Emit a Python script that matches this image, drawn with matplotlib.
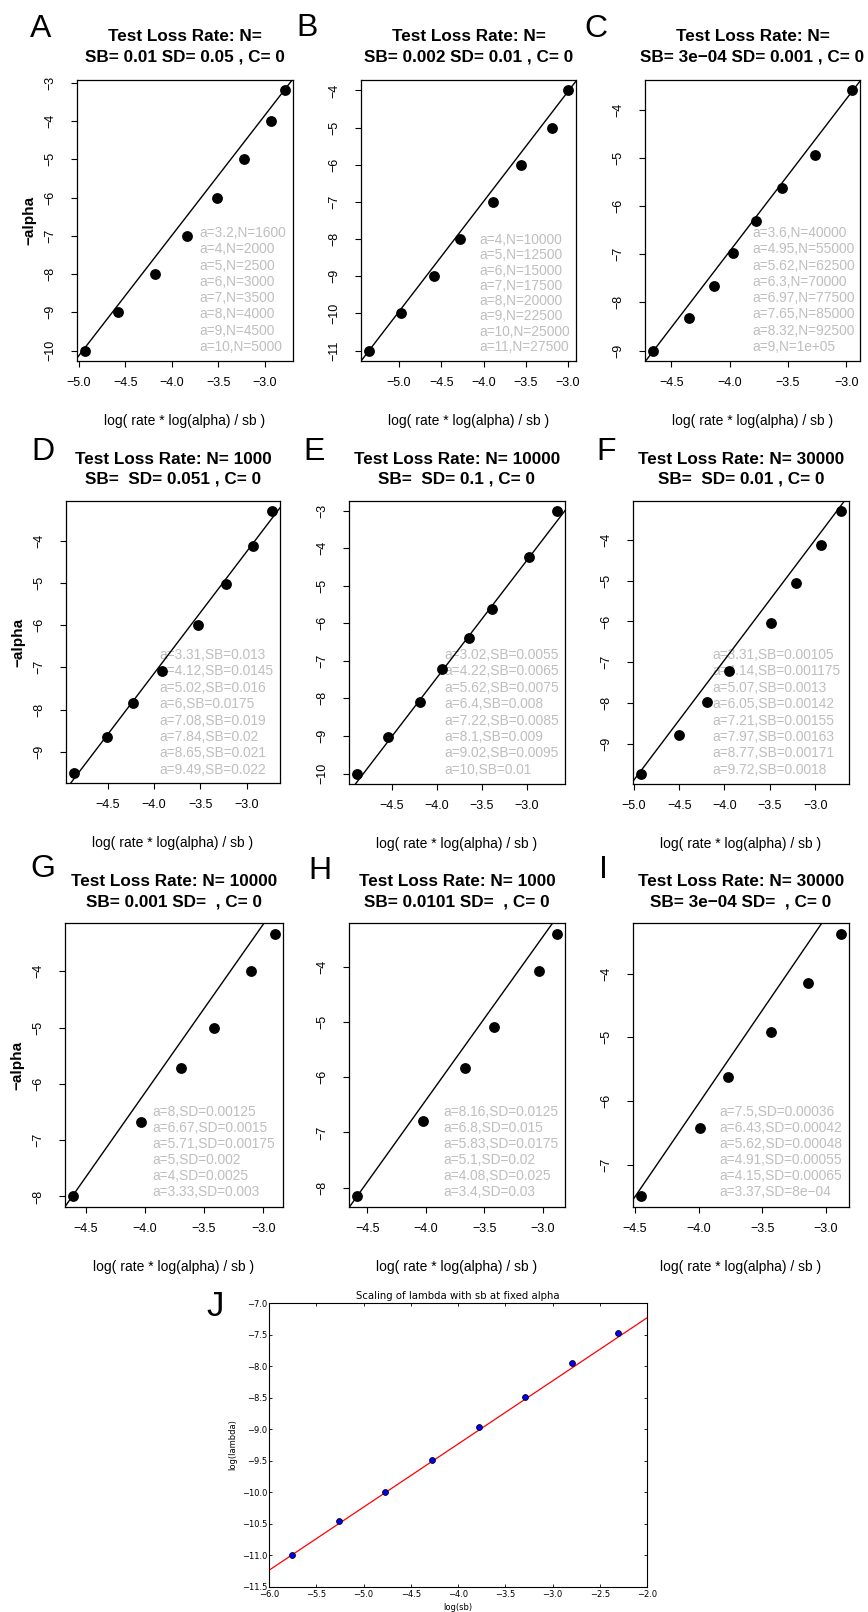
import numpy as np
import matplotlib
matplotlib.use("Agg")
import matplotlib.pyplot as plt
from matplotlib.ticker import MultipleLocator, FuncFormatter

plt.rcParams['font.family'] = ['Liberation Sans', 'DejaVu Sans']
plt.rcParams['axes.unicode_minus'] = True

W, H, DPI = 868, 1612, 100
MINUS = '\u2212'

# ---------------- data ----------------
A_x = [-4.935, -4.58, -4.18, -3.84, -3.51, -3.22, -2.93, -2.78]
A_a = [10, 9, 8, 7, 6, 5, 4, 3.2]
A_labels = ["a=3.2,N=1600", "a=4,N=2000", "a=5,N=2500", "a=6,N=3000",
            "a=7,N=3500", "a=8,N=4000", "a=9,N=4500", "a=10,N=5000"]
A_title = ("Test Loss Rate: N=", "SB= 0.01 SD= 0.05 , C= 0")
A_fit = (3.134, 5.543)

B_x = [-5.356, -4.98, -4.585, -4.28, -3.89, -3.56, -3.19, -3.0]
B_a = [11, 10, 9, 8, 7, 6, 5, 4]
B_labels = ["a=4,N=10000", "a=5,N=12500", "a=6,N=15000", "a=7,N=17500",
            "a=8,N=20000", "a=9,N=22500", "a=10,N=25000", "a=11,N=27500"]
B_title = ("Test Loss Rate: N=", "SB= 0.002 SD= 0.01 , C= 0")
B_fit = (2.96, 4.852)

C_x = [-4.657, -4.35, -4.137, -3.97, -3.77, -3.55, -3.27, -2.95]
C_a = [9, 8.32, 7.65, 6.97, 6.3, 5.62, 4.95, 3.6]
C_labels = ["a=3.6,N=40000", "a=4.95,N=55000", "a=5.62,N=62500", "a=6.3,N=70000",
            "a=6.97,N=77500", "a=7.65,N=85000", "a=8.32,N=92500", "a=9,N=1e+05"]
C_title = ("Test Loss Rate: N=", "SB= 3e\u221204 SD= 0.001 , C= 0")
C_fit = (3.16, 5.699)

D_x = [-4.866, -4.507, -4.227, -3.914, -3.527, -3.222, -2.935, -2.724]
D_a = [9.49, 8.65, 7.84, 7.08, 6, 5.02, 4.12, 3.31]
D_labels = ["a=3.31,SB=0.013", "a=4.12,SB=0.0145", "a=5.02,SB=0.016", "a=6,SB=0.0175",
            "a=7.08,SB=0.019", "a=7.84,SB=0.02", "a=8.65,SB=0.021", "a=9.49,SB=0.022"]
D_title = ("Test Loss Rate: N= 1000", "SB=  SD= 0.051 , C= 0")
D_fit = (2.88, 4.375)

E_x = [-4.884, -4.538, -4.184, -3.935, -3.644, -3.383, -2.974, -2.664]
E_a = [10, 9.02, 8.1, 7.22, 6.4, 5.62, 4.22, 3.02]
E_labels = ["a=3.02,SB=0.0055", "a=4.22,SB=0.0065", "a=5.62,SB=0.0075", "a=6.4,SB=0.008",
            "a=7.22,SB=0.0085", "a=8.1,SB=0.009", "a=9.02,SB=0.0095", "a=10,SB=0.01"]
E_title = ("Test Loss Rate: N= 10000", "SB=  SD= 0.1 , C= 0")
E_fit = (3.13, 5.063)

F_x = [-4.921, -4.5, -4.193, -3.953, -3.483, -3.214, -2.937, -2.715]
F_a = [9.72, 8.77, 7.97, 7.21, 6.05, 5.07, 4.14, 3.31]
F_labels = ["a=3.31,SB=0.00105", "a=4.14,SB=0.001175", "a=5.07,SB=0.0013", "a=6.05,SB=0.00142",
            "a=7.21,SB=0.00155", "a=7.97,SB=0.00163", "a=8.77,SB=0.00171", "a=9.72,SB=0.0018"]
F_title = ("Test Loss Rate: N= 30000", "SB=  SD= 0.01 , C= 0")
F_fit = (2.94, 4.818)

G_x = [-4.606, -4.035, -3.692, -3.415, -3.107, -2.901]
G_a = [8, 6.67, 5.71, 5, 4, 3.33]
G_labels = ["a=8,SD=0.00125", "a=6.67,SD=0.0015", "a=5.71,SD=0.00175",
            "a=5,SD=0.002", "a=4,SD=0.0025", "a=3.33,SD=0.003"]
G_title = ("Test Loss Rate: N= 10000", "SB= 0.001 SD=  , C= 0")
G_fit = (2.995, 5.818)

H_x = [-4.589, -4.023, -3.666, -3.415, -3.038, -2.880]
H_a = [8.16, 6.8, 5.83, 5.1, 4.08, 3.4]
H_labels = ["a=8.16,SD=0.0125", "a=6.8,SD=0.015", "a=5.83,SD=0.0175",
            "a=5.1,SD=0.02", "a=4.08,SD=0.025", "a=3.4,SD=0.03"]
H_title = ("Test Loss Rate: N= 1000", "SB= 0.0101 SD=  , C= 0")
H_fit = (2.96, 5.425)

I_x = [-4.452, -3.987, -3.768, -3.434, -3.140, -2.882]
I_a = [7.5, 6.43, 5.62, 4.91, 4.15, 3.37]
I_labels = ["a=7.5,SD=0.00036", "a=6.43,SD=0.00042", "a=5.62,SD=0.00048",
            "a=4.91,SD=0.00055", "a=4.15,SD=0.00065", "a=3.37,SD=8e\u221204"]
I_title = ("Test Loss Rate: N= 30000", "SB= 3e\u221204 SD=  , C= 0")
I_fit = (2.93, 5.679)

J_x = [-5.757, -5.263, -4.770, -4.277, -3.783, -3.290, -2.797, -2.303]
J_y = [-10.986, -10.457, -10.0, -9.483, -8.969, -8.493, -7.958, -7.471]
J_fit = (1.0, -5.235)
J_title = "Scaling of lambda with sb at fixed alpha"

XLABEL = "log( rate * log(alpha) / sb )"
YLABEL = "\u2212alpha"

# ---------------- layout (pixels) ----------------
YTICK_OFF = 27   # centre of y tick labels, left of box
XTICK_OFF = 22   # centre of x tick labels, below box
XLAB_OFF = 60    # centre of x label, below box
YLAB_OFF = 48    # centre of y label, left of box

LAYOUT = {
    'A': dict(box=(77, 80, 293, 361), letter=(30, 37), t=(41, 61), ann=(199, 232, 16.3), ylab=True),
    'B': dict(box=(361, 80, 576, 361), letter=(296, 36), t=(41, 61), ann=(479, 239, 15.3), ylab=False),
    'C': dict(box=(645, 80, 860, 361), letter=(584, 37), t=(41, 61), ann=(752, 232, 16.3), ylab=False),
    'D': dict(box=(66, 501, 280, 783), letter=(31, 460), t=(464, 484), ann=(159, 654, 16.4), ylab=True),
    'E': dict(box=(349, 501, 565, 784), letter=(303, 460), t=(464, 484), ann=(444, 654, 16.4), ylab=False),
    'F': dict(box=(633, 501, 849, 784), letter=(596, 460), t=(464, 484), ann=(712, 654, 16.4), ylab=False),
    'G': dict(box=(65, 923, 283, 1207), letter=(30, 877), t=(886, 906), ann=(152, 1111, 16.0), ylab=True),
    'H': dict(box=(349, 923, 565, 1207), letter=(308, 879), t=(886, 906), ann=(443, 1111, 16.0), ylab=False),
    'I': dict(box=(633, 923, 849, 1207), letter=(599, 878), t=(886, 906), ann=(719, 1111, 16.0), ylab=False),
}
J_BOX = (269, 1303, 647, 1587)

PANELS = [
    ('A', A_x, A_a, A_labels, A_title, A_fit),
    ('B', B_x, B_a, B_labels, B_title, B_fit),
    ('C', C_x, C_a, C_labels, C_title, C_fit),
    ('D', D_x, D_a, D_labels, D_title, D_fit),
    ('E', E_x, E_a, E_labels, E_title, E_fit),
    ('F', F_x, F_a, F_labels, F_title, F_fit),
    ('G', G_x, G_a, G_labels, G_title, G_fit),
    ('H', H_x, H_a, H_labels, H_title, H_fit),
    ('I', I_x, I_a, I_labels, I_title, I_fit),
]


def fmt(dec):
    return FuncFormatter(lambda v, p: f"{v:.{dec}f}".replace('-', MINUS))


fig = plt.figure(figsize=(W / DPI, H / DPI), dpi=DPI)
fig.patch.set_facecolor('white')

PX = 0.72  # points per pixel at 100 dpi

for letter, xs, avals, labels, title, fit in PANELS:
    L = LAYOUT[letter]
    l, t, r, b = L['box']
    wpx, hpx = r - l, b - t
    ax = fig.add_axes([l / W, 1 - b / H, wpx / W, hpx / H])
    x = np.asarray(xs, float)
    y = -np.asarray(avals, float)
    ax.axline((0.0, fit[1]), slope=fit[0], color='black', lw=1.0, zorder=2)
    ax.plot(x, y, 'o', color='black', ms=7.8, mec='none', zorder=3)
    xr, yr = np.ptp(x), np.ptp(y)
    ax.set_xlim(x.min() - 0.04 * xr, x.max() + 0.04 * xr)
    ax.set_ylim(y.min() - 0.04 * yr, y.max() + 0.04 * yr)
    ax.xaxis.set_major_locator(MultipleLocator(0.5))
    ax.yaxis.set_major_locator(MultipleLocator(1.0))
    ax.xaxis.set_major_formatter(fmt(1))
    ax.yaxis.set_major_formatter(fmt(0))
    for sp in ax.spines.values():
        sp.set_linewidth(0.9)
    ax.tick_params(axis='both', direction='out', length=6 * PX, width=0.8,
                   labelsize=9, colors='black')
    ax.tick_params(axis='x', pad=(XTICK_OFF - 6) * PX)
    ax.tick_params(axis='y', pad=(YTICK_OFF - 6) * PX, labelrotation=90)
    plt.setp(ax.get_yticklabels(), ha='center', va='center')
    plt.setp(ax.get_xticklabels(), va='center')

    # titles
    for ypx, s in zip(L['t'], title):
        ax.text(0.5, (b - ypx) / hpx, s, transform=ax.transAxes, ha='center',
                va='baseline', fontsize=12.3, fontweight='bold')
    # grey annotation block
    ax_l, first, spc = L['ann']
    for i, s in enumerate(labels):
        ypx = first + i * spc + 5
        ax.text((ax_l - l) / wpx, (b - ypx) / hpx, s, transform=ax.transAxes,
                ha='left', va='baseline', fontsize=9.9, color='#bebebe', zorder=1)
    # axis labels
    ax.set_xlabel(XLABEL, fontsize=10, va='center')
    ax.xaxis.set_label_coords(0.5, -XLAB_OFF / hpx)
    if L['ylab']:
        ax.set_ylabel(YLABEL, fontsize=11, fontweight='bold', va='center')
        ax.yaxis.set_label_coords(-YLAB_OFF / wpx, 0.5)
    # panel letter
    lx, ly = L['letter']
    fig.text(lx / W, 1 - ly / H, letter, fontsize=23, ha='left', va='baseline')

# ---------------- panel J (matplotlib classic look) ----------------
l, t, r, b = J_BOX
wpx, hpx = r - l, b - t
axj = fig.add_axes([l / W, 1 - b / H, wpx / W, hpx / H])
axj.axline((0.0, J_fit[1]), slope=J_fit[0], color='red', lw=0.9, zorder=2)
axj.plot(J_x, J_y, 'o', color='#0000ff', mec='black', mew=0.6, ms=4.2, zorder=3)
axj.set_xlim(-6.0, -2.0)
axj.set_ylim(-11.5, -7.0)
axj.xaxis.set_major_locator(MultipleLocator(0.5))
axj.yaxis.set_major_locator(MultipleLocator(0.5))
axj.xaxis.set_major_formatter(fmt(1))
axj.yaxis.set_major_formatter(fmt(1))
for sp in axj.spines.values():
    sp.set_linewidth(0.8)
axj.tick_params(axis='both', direction='in', top=True, right=True, length=2.2,
                width=0.6, labelsize=6, labelfontfamily='DejaVu Sans')
axj.tick_params(axis='x', pad=2.2)
axj.tick_params(axis='y', pad=1.4)
axj.set_title(J_title, fontsize=7.3, pad=2.6, family='DejaVu Sans')
axj.set_xlabel('log(sb)', fontsize=6, family='DejaVu Sans', va='center')
axj.xaxis.set_label_coords(0.5, -20 / hpx)
axj.set_ylabel('log(lambda)', fontsize=6, family='DejaVu Sans', va='center')
axj.yaxis.set_label_coords(-36.7 / wpx, 0.5)
fig.text(206 / W, 1 - 1316 / H, 'J', fontsize=25, ha='left', va='baseline')

fig.savefig('out.png', dpi=DPI, facecolor='white')
